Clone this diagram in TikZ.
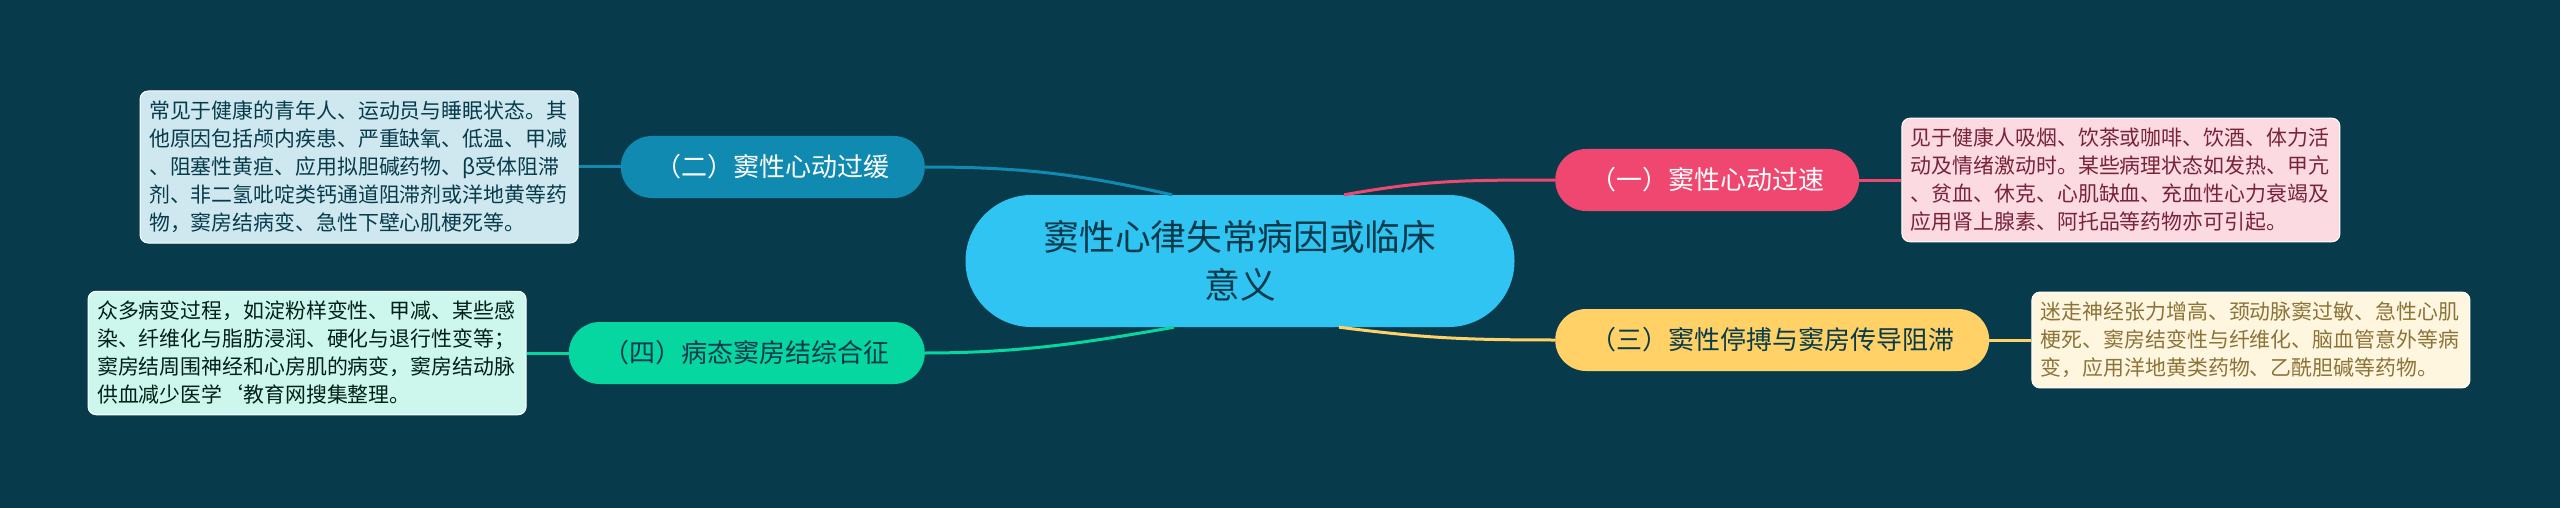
\documentclass[tikz,border=0pt]{standalone}
\usepackage{fontspec}
\setmainfont{Noto Sans CJK SC}
\usetikzlibrary{positioning}
\definecolor{bgc}{HTML}{073B4C}
\definecolor{rootc}{HTML}{30C4F3}
\definecolor{pinkc}{HTML}{EF476F}
\definecolor{bluec}{HTML}{118AB2}
\definecolor{yelc}{HTML}{FFD166}
\definecolor{grnc}{HTML}{06D6A0}
\tikzset{
    topic/.style={fill=rootc,text=bgc,rounded corners=66pt,minimum width=549pt,
        minimum height=132pt,align=center,font=\fontsize{35.7}{48}\selectfont},
    branch/.style={rounded corners=31pt,minimum height=62pt,inner xsep=35pt,
        inner ysep=0pt,font=\fontsize{26}{30}\selectfont},
    leaf/.style={rounded corners=8pt,text width=420pt,inner xsep=9pt,inner ysep=10pt,
        align=left,draw=white,line width=1pt,font=\fontsize{20.9}{28}\selectfont},
    link/.style={line width=3pt},
}
\begin{document}
\begin{tikzpicture}[x=1pt,y=-1pt,node distance=42pt]
    %% background
    \fill[bgc] (0,0) rectangle (2560,508);
    \useasboundingbox (0,0) rectangle (2560,508);
    %% root
    \node[topic] (root) at (1240,261) {窦性心律失常病因或临床\\意义};
    %% branches
    \node[branch,fill=pinkc,text=white,anchor=west] (b1) at (1555,180) {（一）窦性心动过速};
    \node[branch,fill=bluec,text=white,anchor=east] (b2) at (925,167) {（二）窦性心动过缓};
    \node[branch,fill=yelc,text=bgc,anchor=west] (b3) at (1555,340) {（三）窦性停搏与窦房传导阻滞};
    \node[branch,fill=grnc,text=bgc,anchor=east] (b4) at (925,353) {（四）病态窦房结综合征};
    %% leaves
    \node[leaf,fill=pinkc!20!white,text=pinkc!50!black,right=of b1] (l1)
        {见于健康人吸烟、饮茶或咖啡、饮酒、体力活\\动及情绪激动时。某些病理状态如发热、甲亢\\、贫血、休克、心肌缺血、充血性心力衰竭及\\应用肾上腺素、阿托品等药物亦可引起。};
    \node[leaf,fill=bluec!20!white,text=bgc,left=of b2] (l2)
        {常见于健康的青年人、运动员与睡眠状态。其\\他原因包括颅内疾患、严重缺氧、低温、甲减\\、阻塞性黄疸、应用拟胆碱药物、β受体阻滞\\剂、非二氢吡啶类钙通道阻滞剂或洋地黄等药\\物，窦房结病变、急性下壁心肌梗死等。};
    \node[leaf,fill=yelc!20!white,text=yelc!55!black,right=of b3] (l3)
        {迷走神经张力增高、颈动脉窦过敏、急性心肌\\梗死、窦房结变性与纤维化、脑血管意外等病\\变，应用洋地黄类药物、乙酰胆碱等药物。};
    \node[leaf,fill=grnc!20!white,text=grnc!15!black,left=of b4] (l4)
        {众多病变过程，如淀粉样变性、甲减、某些感\\染、纤维化与脂肪浸润、硬化与退行性变等；\\窦房结周围神经和心房肌的病变，窦房结动脉\\供血减少医学\symbol{96}教育网搜集整理。};
    %% root to branches
    \draw[link,pinkc] ([xshift=104pt]root.north) .. controls +(80,-14) and +(-100,0) .. (b1.west);
    \draw[link,bluec] ([xshift=-68pt]root.north) .. controls +(-90,-20) and +(100,0) .. (b2.east);
    \draw[link,yelc] ([xshift=99pt]root.south) .. controls +(80,10) and +(-100,0) .. (b3.west);
    \draw[link,grnc] ([xshift=-66pt]root.south) .. controls +(-80,14) and +(100,0) .. (b4.east);
    %% branches to leaves
    \foreach \b/\l/\c in {b1/l1/pinkc,b2/l2/bluec,b3/l3/yelc,b4/l4/grnc}
        \draw[link,\c] (\b) -- (\l);
\end{tikzpicture}
\end{document}
